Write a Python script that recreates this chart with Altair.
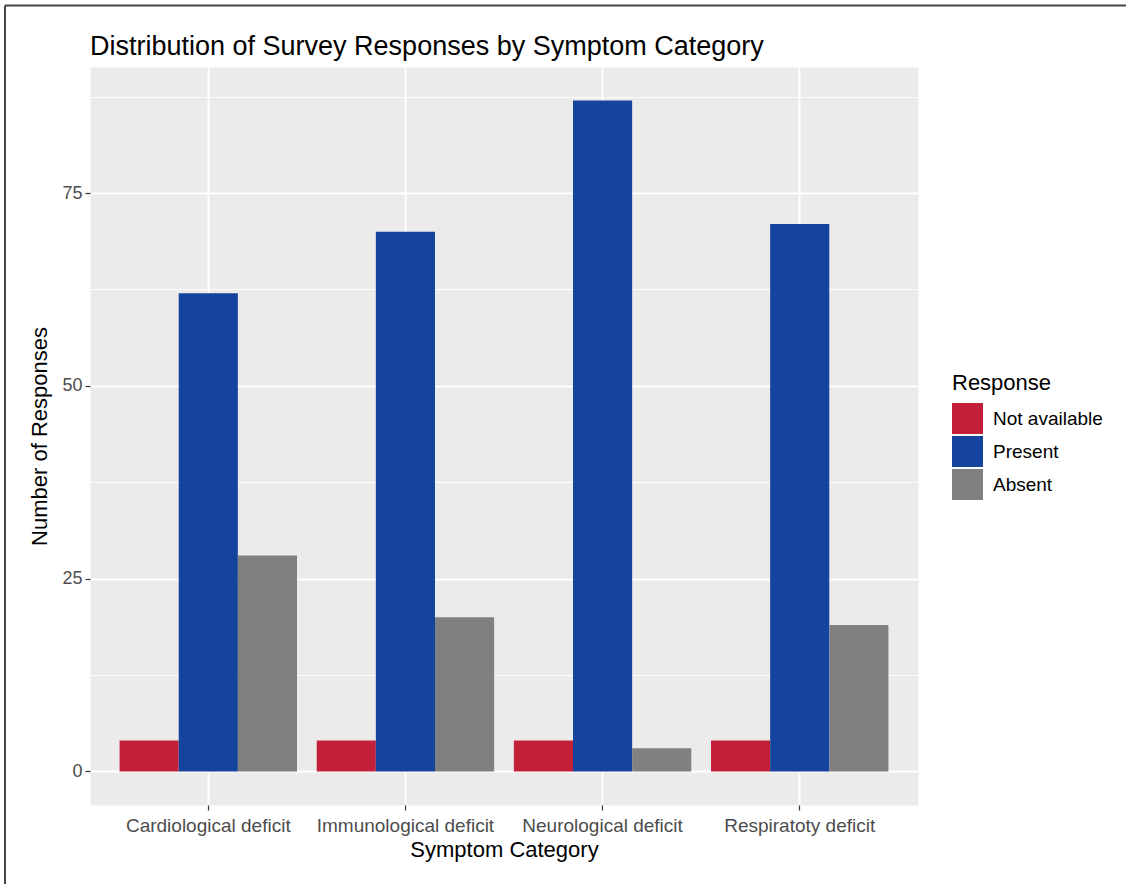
import altair as alt
import pandas as pd

categories = ["Cardiological deficit", "Immunological deficit", "Neurological deficit", "Respiratoty deficit"]
responses = ["Not available", "Present", "Absent"]
not_available = [4, 4, 4, 4]
present = [62, 70, 87, 71]
absent = [28, 20, 3, 19]
colors = ["#C3213A", "#14449E", "#808080"]
y_ticks = [0, 12.5, 25, 37.5, 50, 62.5, 75, 87.5]
title_text = "Distribution of Survey Responses by Symptom Category"

rows = []
for i, c in enumerate(categories):
    for r, vals in zip(responses, [not_available, present, absent]):
        rows.append({"Symptom Category": c, "Response": r, "Count": vals[i]})
df = pd.DataFrame(rows)

FONT = "Liberation Sans"

bars = alt.Chart(df).mark_bar(stroke=None).encode(
    x=alt.X("Symptom Category:N", sort=categories,
            scale=alt.Scale(paddingInner=0.1, paddingOuter=0.15),
            axis=alt.Axis(title="Symptom Category", labelAngle=0, grid=True, bandPosition=0.5,
                          gridColor="white", gridWidth=1.8, domain=False,
                          tickColor="#333333", tickSize=5, tickWidth=1.2,
                          labelColor="#4D4D4D", labelFontSize=19, labelFont=FONT, labelPadding=6,
                          titleFontSize=22, titleFont=FONT, titleColor="black",
                          titleFontWeight="normal", titlePadding=4)),
    xOffset=alt.XOffset("Response:N", sort=responses,
                        scale=alt.Scale(paddingInner=0, paddingOuter=0)),
    y=alt.Y("Count:Q",
            scale=alt.Scale(domain=[-4.35, 91.35], nice=False, zero=False),
            axis=alt.Axis(title="Number of Responses", values=y_ticks,
                          labelExpr="datum.value % 25 === 0 ? datum.label : ''",
                          grid=True, gridColor="white",
                          gridWidth={"condition": {"test": "datum.value % 25 === 0", "value": 1.8}, "value": 0.9},
                          domain=False,
                          tickColor="#333333", tickSize=5, tickWidth=1.2,
                          tickOpacity={"condition": {"test": "datum.value % 25 !== 0", "value": 0}, "value": 1},
                          labelColor="#4D4D4D", labelFontSize=18, labelFont=FONT, labelPadding=3,
                          titleFontSize=22, titleFont=FONT, titleColor="black",
                          titleFontWeight="normal", titlePadding=10)),
    y2=alt.datum(0),
    color=alt.Color("Response:N", sort=responses,
                    scale=alt.Scale(domain=responses, range=colors),
                    legend=alt.Legend(title="Response", orient="none", legendX=862, legendY=306,
                                      symbolType="square", symbolSize=961, symbolStrokeWidth=0,
                                      symbolOpacity=1, rowPadding=2, labelOffset=10,
                                      labelFontSize=19, labelFont=FONT, labelColor="black",
                                      titleFontSize=22, titleFont=FONT, titleColor="black",
                                      titleFontWeight="normal", titlePadding=8)),
)

title_df = pd.DataFrame({"t": [title_text]})
title_mark = alt.Chart(title_df).mark_text(
    align="left", baseline="alphabetic", font=FONT, fontSize=27, color="black"
).encode(x=alt.value(0), y=alt.value(-12), text="t:N")

frame = pd.DataFrame({"k": [0]})
top_line = alt.Chart(frame).mark_rule(color="#444444", strokeWidth=2).encode(
    x=alt.value(-85), x2=alt.value(1036), y=alt.value(-61.5))
left_line = alt.Chart(frame).mark_rule(color="#444444", strokeWidth=2).encode(
    x=alt.value(-85), y=alt.value(-61.5), y2=alt.value(817))

chart = alt.layer(bars, title_mark, top_line, left_line).properties(
    width=828, height=738,
    autosize=alt.AutoSizeParams(type="none"),
    padding={"left": 90, "top": 67, "right": 208, "bottom": 79},
    background="white",
).configure_view(fill="#EBEBEB", stroke="transparent")

chart.save("out.html", embed_options={"renderer": "svg", "actions": False})
